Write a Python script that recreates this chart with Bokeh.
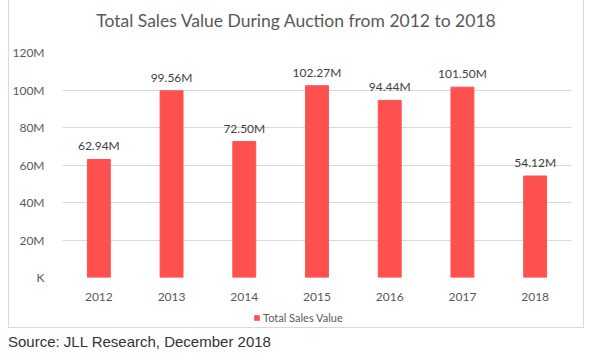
from bokeh.plotting import figure
from bokeh.models import (ColumnDataSource, FixedTicker, Legend, LegendItem, Div, LabelSet)
from bokeh.core.properties import value
from bokeh.layouts import column
from bokeh.embed import file_html
from bokeh.resources import INLINE

years = ["2012", "2013", "2014", "2015", "2016", "2017", "2018"]
sales = [62.94, 99.56, 72.50, 102.27, 94.44, 101.50, 54.12]
labels = ["62.94M", "99.56M", "72.50M", "102.27M", "94.44M", "101.50M", "54.12M"]
y_ticks = [0, 20, 40, 60, 80, 100, 120]
y_tick_labels = ["K", "20M", "40M", "60M", "80M", "100M", "120M"]
series_name = "Total Sales Value"
title_text = "Total Sales Value During Auction from 2012 to 2018"
BAR_COLOR = "#FF5050"
BORDER = "1px solid #d9d9d9"

FONT = "Lato"
src = ColumnDataSource(dict(x=years, y=sales, lab=labels))

# title strip
title_div = Div(text=title_text, width=576, height=36,
                styles={"font-family": "Lato, sans-serif", "font-size": "17.5px",
                        "color": "#595959", "text-align": "center", "line-height": "42px",
                        "border-left": BORDER, "border-right": BORDER,
                        "background": "white"})
title_div.margin = (0, 0, 0, 8)

p = figure(x_range=years, y_range=(0, 120), width=576, height=269,
           output_backend="svg", toolbar_location=None,
           min_border_left=51, min_border_right=14, min_border_top=16, min_border_bottom=28)
p.margin = (0, 0, 0, 8)
p.title = None

p.vbar(x="x", top="y", width=0.315, source=src, color=BAR_COLOR)

p.add_layout(LabelSet(x="x", y="y", text="lab", source=src, text_align="center",
                      text_baseline="bottom", y_offset=6, text_font=value(FONT),
                      text_font_size=value("12px"), text_color="#404040"))

p.outline_line_color = None
p.background_fill_color = "white"
p.border_fill_color = "white"
p.xgrid.grid_line_color = None
p.ygrid.grid_line_color = "#d9d9d9"
p.ygrid.ticker = FixedTicker(ticks=y_ticks)

p.yaxis.ticker = FixedTicker(ticks=y_ticks)
p.yaxis.major_label_overrides = {t: l for t, l in zip(y_ticks, y_tick_labels)}
for ax in (p.xaxis[0], p.yaxis[0]):
    ax.axis_line_color = None
    ax.major_tick_line_color = None
    ax.minor_tick_line_color = None
    ax.major_label_text_font = FONT
    ax.major_label_text_font_size = "12px"
    ax.major_label_text_color = "#595959"
p.yaxis.major_label_standoff = 12
p.xaxis.major_label_standoff = 9
p.styles = {"border-left": BORDER, "border-right": BORDER}

# legend strip: its renderer has zero-height bars (nothing visible); only the legend is drawn
lf = figure(width=576, height=23, x_range=years, y_range=(0, 120),
            x_axis_type=None, y_axis_type=None,
            output_backend="svg", toolbar_location=None,
            min_border_left=0, min_border_right=0, min_border_top=0, min_border_bottom=0)
lf.margin = (0, 0, 0, 8)
lf.grid.visible = False
lf.outline_line_color = None
lr = lf.vbar(x="x", top="y", bottom="y", width=0.315, source=src,
             fill_color=BAR_COLOR, line_color=None)
legend = Legend(items=[LegendItem(label=series_name, renderers=[lr])],
                location=(191, 4), orientation="horizontal",
                glyph_width=7, glyph_height=7, label_height=10, label_standoff=3,
                padding=0, margin=0, border_line_color=None, background_fill_alpha=0,
                label_text_font=FONT, label_text_font_size="11px", label_text_color="#595959")
lf.add_layout(legend, "center")
lf.styles = {"border-left": BORDER, "border-right": BORDER, "border-bottom": BORDER}

src_div = Div(text="Source: JLL Research, December 2018", width=400, height=24,
              styles={"font-family": "'Liberation Sans', Arial, sans-serif", "font-size": "15px",
                      "color": "#333333", "margin-left": "8px", "margin-top": "3px"})

layout = column(title_div, p, lf, src_div, spacing=0)
open("out.html", "w").write(file_html(layout, INLINE))
